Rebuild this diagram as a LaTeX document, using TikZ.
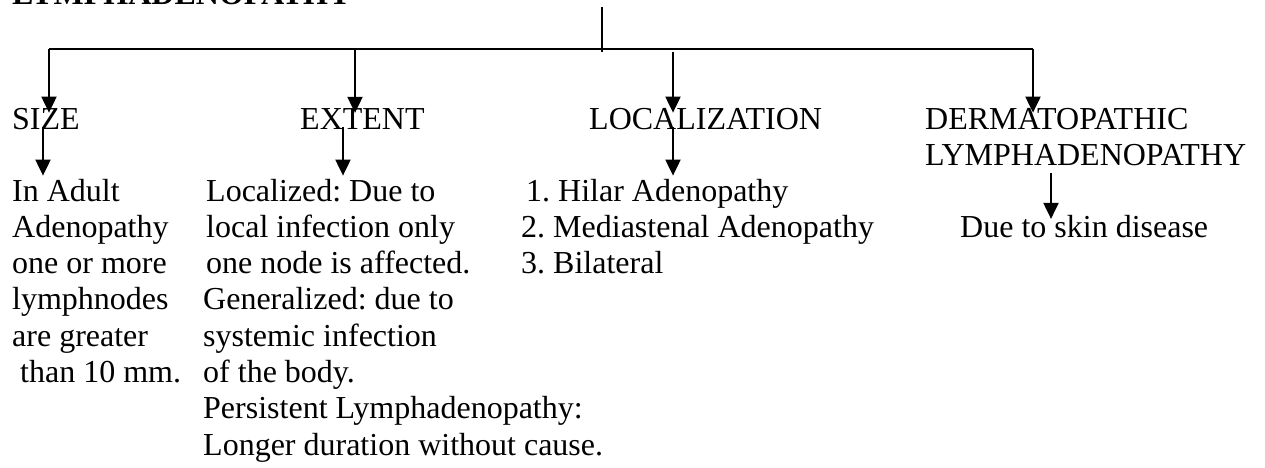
\documentclass[tikz,border=0pt]{standalone}
\usepackage{fontspec}
\setmainfont{Liberation Serif}
\usetikzlibrary{arrows.meta}
\begin{document}
\frenchspacing
\begin{tikzpicture}[x=1pt,y=-1pt,
  conn/.style={line width=2pt},
  arr/.style={line width=2pt,-{Triangle[length=16pt,width=15pt]}},
  txt/.style={inner sep=0pt,anchor=base west,align=left,font=\fontsize{32}{36.3}\selectfont},
]
\useasboundingbox (0,0) rectangle (1265,467);
% title
\node[txt,font=\bfseries\fontsize{32}{36.3}\selectfont] (title) at (12,4) {LYMPHADENOPATHY};
% headings (anchor = baseline of last line)
\node[txt] (size) at (12,129) {SIZE};
\node[txt] (extent) at (300,129) {EXTENT};
\node[txt] (local) at (589,129) {LOCALIZATION};
\node[txt] (derma) at (925,165.3) {DERMATOPATHIC\\LYMPHADENOPATHY};
% bodies
\node[txt] (sizeb) at (12,382.5) {In Adult\\Adenopathy\\one or more\\lymphnodes\\are greater\\\hspace{8pt}than 10 mm.};
\node[txt] (extentb) at (203,455.1) {\hspace{3pt}Localized: Due to\\\hspace{3pt}local infection only\\\hspace{3pt}one node is affected.\\Generalized: due to\\systemic infection\\of the body.\\Persistent Lymphadenopathy:\\Longer duration without cause.};
\node[txt] (localb) at (521,273.6) {\hspace{5pt}1. Hilar Adenopathy\\2. Mediastenal Adenopathy\\3. Bilateral};
\node[txt] (dermab) at (960,237.3) {Due to skin disease};
% tree
\coordinate (top) at (602,7);
\coordinate (junc) at (602,52);
\coordinate (hl) at (49,49);
\coordinate (hext) at (355,49);
\coordinate (hloc) at (673,52);
\coordinate (hr) at (1033,49);
\draw[conn] (top) -- (junc);
\draw[conn] (hl) -- (hr);
\draw[arr] (hl) -- ([yshift=-5pt]size.north -| hl);
\draw[arr] (hext) -- ([yshift=-5pt]extent.north -| hext);
\draw[arr] (hloc) -- ([yshift=-5pt]local.north -| hloc);
\draw[arr] (hr) -- ([yshift=-5pt]derma.north -| hr);
% second level
\coordinate (s2) at (43,127);
\coordinate (e2) at (343,127);
\coordinate (l2) at (673,127);
\coordinate (d2) at (1051,173);
\draw[arr] (s2) -- ([yshift=3pt]sizeb.north -| s2);
\draw[arr] (e2) -- ([yshift=3pt]extentb.north -| e2);
\draw[arr] (l2) -- ([yshift=3pt]localb.north -| l2);
\draw[arr] (d2) -- ([yshift=-4pt]dermab.north -| d2);
\end{tikzpicture}
\end{document}
